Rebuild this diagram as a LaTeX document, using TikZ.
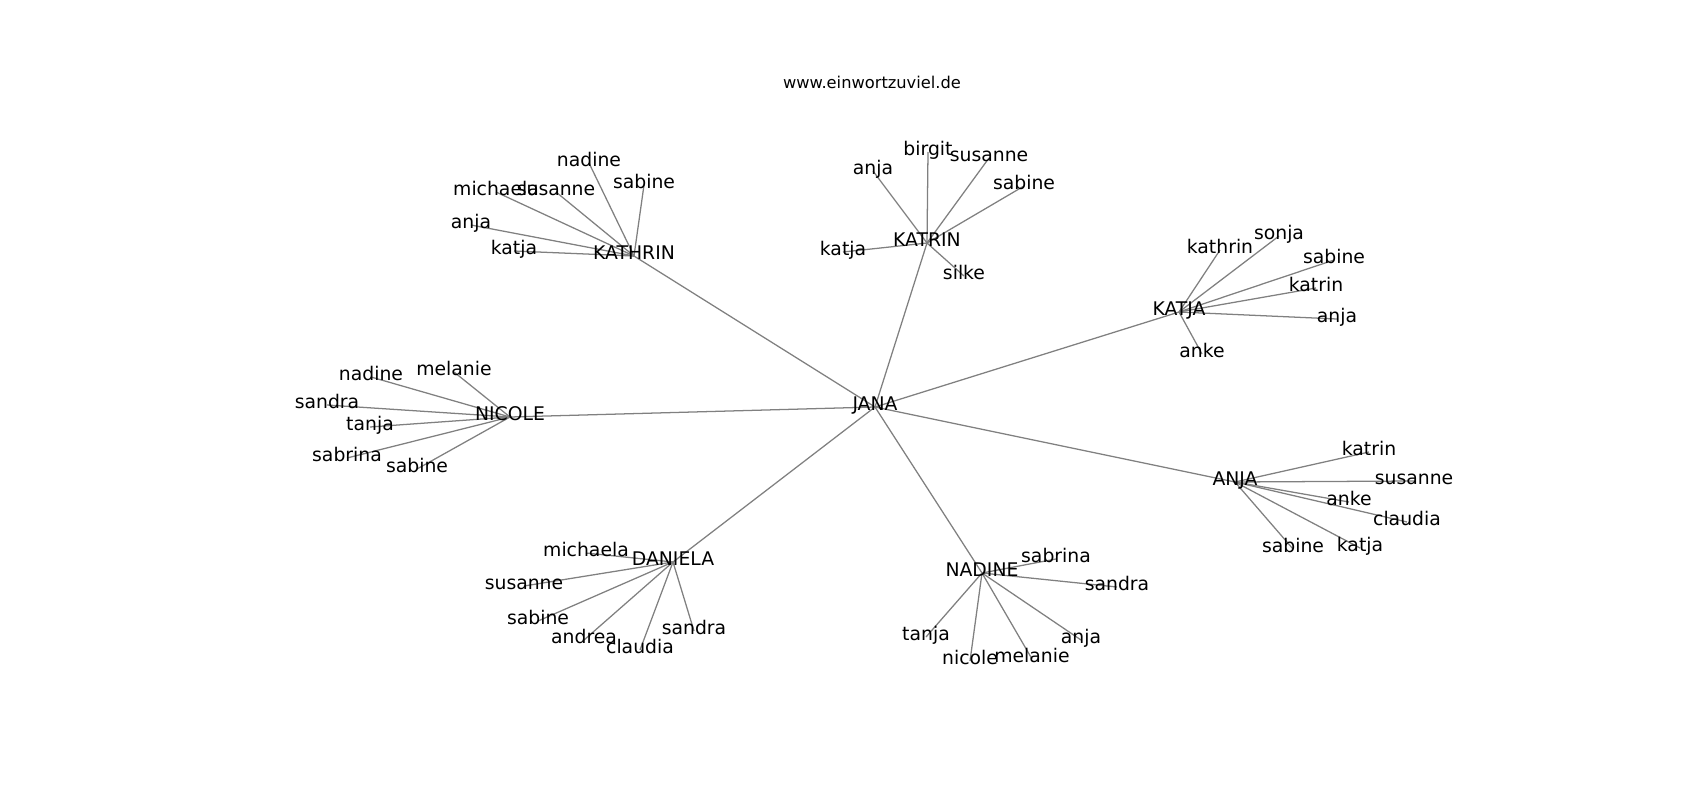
\documentclass[tikz,border=0pt]{standalone}
\usepackage{fontspec}
\setmainfont{DejaVu Sans}
\usetikzlibrary{backgrounds}
\tikzset{
  lbl/.style={inner sep=0pt, text height=0.76em, text depth=0.208em, anchor=center, font=\fontsize{14.1}{14.1}\selectfont, text=black},
  edge/.style={draw=gray, line width=0.95pt}
}
\begin{document}
\begin{tikzpicture}[x=0.75pt, y=-0.75pt]
\useasboundingbox (0,0) rectangle (1700,800);
\node[inner sep=0pt, font=\fontsize{12.2}{12.2}\selectfont] (title) at (872,82) {www.einwortzuviel.de};
\begin{scope}[yshift=-1.5pt]
% hubs
\node[lbl] (jana) at (875,405) {JANA};
\node[lbl] (kathrin) at (634,254) {KATHRIN};
\node[lbl] (katrin) at (927,241) {KATRIN};
\node[lbl] (katja) at (1179,310) {KATJA};
\node[lbl] (nicole) at (510,415) {NICOLE};
\node[lbl] (anja) at (1235,480) {ANJA};
\node[lbl] (nadine) at (982,571) {NADINE};
\node[lbl] (daniela) at (673,560) {DANIELA};
% KATHRIN leaves
\node[lbl] (kh1) at (589,161) {nadine};
\node[lbl] (kh2) at (644,183) {sabine};
\node[lbl] (kh3) at (556,190) {susanne};
\node[lbl] (kh4) at (496,190) {michaela};
\node[lbl] (kh5) at (471,223) {anja};
\node[lbl] (kh6) at (514,249) {katja};
% KATRIN leaves
\node[lbl] (kr1) at (928,150) {birgit};
\node[lbl] (kr2) at (873,169) {anja};
\node[lbl] (kr3) at (989,156) {susanne};
\node[lbl] (kr4) at (1024,184) {sabine};
\node[lbl] (kr5) at (843,250) {katja};
\node[lbl] (kr6) at (964,274) {silke};
% KATJA leaves
\node[lbl] (kj1) at (1220,248) {kathrin};
\node[lbl] (kj2) at (1279,234) {sonja};
\node[lbl] (kj3) at (1334,258) {sabine};
\node[lbl] (kj4) at (1316,286) {katrin};
\node[lbl] (kj5) at (1337,317) {anja};
\node[lbl] (kj6) at (1202,352) {anke};
% NICOLE leaves
\node[lbl] (nc1) at (371,375) {nadine};
\node[lbl] (nc2) at (454,370) {melanie};
\node[lbl] (nc3) at (327,403) {sandra};
\node[lbl] (nc4) at (370,425) {tanja};
\node[lbl] (nc5) at (347,456) {sabrina};
\node[lbl] (nc6) at (417,467) {sabine};
% ANJA leaves
\node[lbl] (an1) at (1369,450) {katrin};
\node[lbl] (an2) at (1414,479) {susanne};
\node[lbl] (an3) at (1349,500) {anke};
\node[lbl] (an4) at (1407,520) {claudia};
\node[lbl] (an5) at (1293,547) {sabine};
\node[lbl] (an6) at (1360,546) {katja};
% NADINE leaves
\node[lbl] (nd1) at (1056,557) {sabrina};
\node[lbl] (nd2) at (1117,585) {sandra};
\node[lbl] (nd3) at (926,635) {tanja};
\node[lbl] (nd4) at (970,659) {nicole};
\node[lbl] (nd5) at (1032,657) {melanie};
\node[lbl] (nd6) at (1081,638) {anja};
% DANIELA leaves
\node[lbl] (dn1) at (586,551) {michaela};
\node[lbl] (dn2) at (524,584) {susanne};
\node[lbl] (dn3) at (538,619) {sabine};
\node[lbl] (dn4) at (584,638) {andrea};
\node[lbl] (dn5) at (640,648) {claudia};
\node[lbl] (dn6) at (694,629) {sandra};
\end{scope}
\begin{scope}[on background layer]
\foreach \h in {kathrin,katrin,katja,nicole,anja,nadine,daniela}
  \draw[edge] (jana.center) -- (\h.center);
\foreach \l in {1,...,6} {
  \draw[edge] (kathrin.center) -- (kh\l.center);
  \draw[edge] (katrin.center) -- (kr\l.center);
  \draw[edge] (katja.center) -- (kj\l.center);
  \draw[edge] (nicole.center) -- (nc\l.center);
  \draw[edge] (anja.center) -- (an\l.center);
  \draw[edge] (nadine.center) -- (nd\l.center);
  \draw[edge] (daniela.center) -- (dn\l.center);
}
\end{scope}
\end{tikzpicture}
\end{document}
